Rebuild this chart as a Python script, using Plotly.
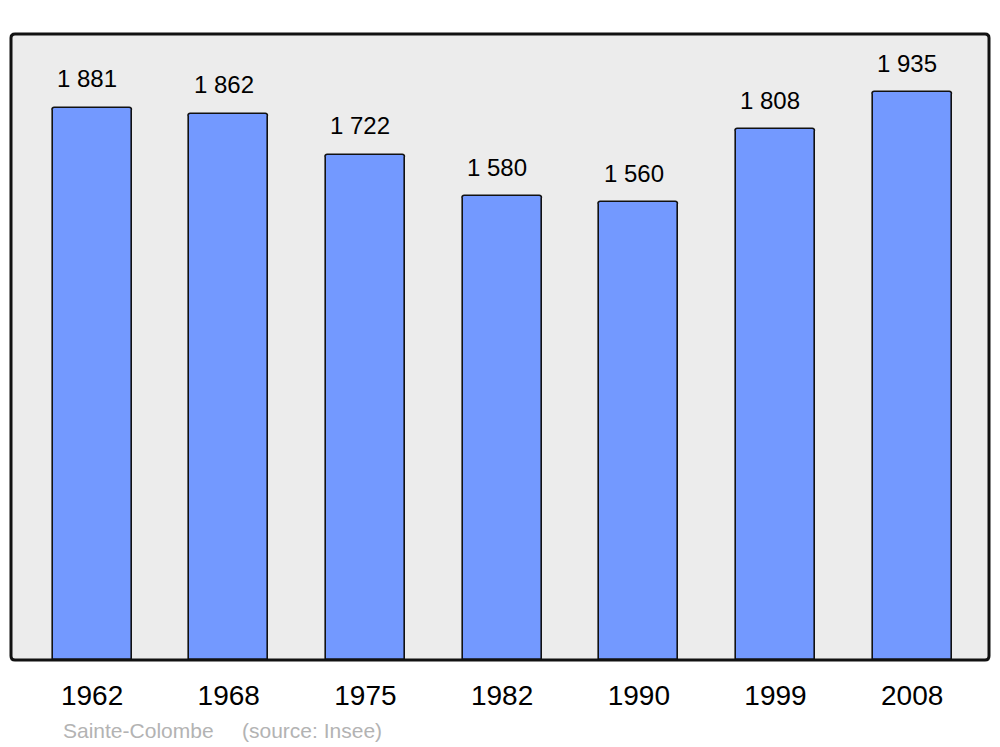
import plotly.graph_objects as go

years = ["1962", "1968", "1975", "1982", "1990", "1999", "2008"]
population = [1881, 1862, 1722, 1580, 1560, 1808, 1935]
value_labels = ["1 881", "1 862", "1 722", "1 580", "1 560", "1 808", "1 935"]
footer_place = "Sainte-Colombe"
footer_source = "(source: Insee)"

fig = go.Figure()
fig.add_trace(go.Bar(
    x=list(range(len(years))), y=population,
    width=0.578,
    marker=dict(color="#7399ff", line=dict(color="#111111", width=1.6), cornerradius=3),
    hoverinfo="skip",
))

for i, (v, t) in enumerate(zip(population, value_labels)):
    fig.add_annotation(x=i, y=v, text=t, showarrow=False, xanchor="center", yanchor="middle",
                       xshift=-5, yshift=29,
                       font=dict(family="Liberation Sans, Arial", size=24, color="#000000"))

footer_font = dict(family="Liberation Sans, Arial", size=21, color="#b3b3b3")
fig.add_annotation(xref="paper", yref="paper", x=0.051, y=-0.113, text=footer_place,
                   showarrow=False, xanchor="left", yanchor="middle", font=footer_font)
fig.add_annotation(xref="paper", yref="paper", x=0.234, y=-0.113, text=footer_source,
                   showarrow=False, xanchor="left", yanchor="middle", font=footer_font)

# rounded frame around plot area (paper coordinates)
rx, ry = 4 / 978, 4 / 626
path = (f"M {rx},0 L {1-rx},0 Q 1,0 1,{ry} L 1,{1-ry} Q 1,1 {1-rx},1 "
        f"L {rx},1 Q 0,1 0,{1-ry} L 0,{ry} Q 0,0 {rx},0 Z")
fig.add_shape(type="path", xref="paper", yref="paper", path=path,
              line=dict(color="#111111", width=3), fillcolor="rgba(0,0,0,0)", layer="above")

fig.update_layout(
    width=1000, height=747,
    margin=dict(l=11, r=11, t=34, b=87),
    paper_bgcolor="#ffffff", plot_bgcolor="#ececec",
    showlegend=False,
    bargap=0,
    xaxis=dict(range=[-0.593, 6.562], tickmode="array", tickvals=list(range(len(years))),
               ticktext=years, showgrid=False, zeroline=False, showline=False, ticks="",
               tickfont=dict(family="Liberation Sans, Arial", size=28, color="#000000"),
               ticklabelstandoff=16),
    yaxis=dict(range=[0, 2133], showgrid=False, zeroline=False, showticklabels=False, ticks="",
               showline=False),
)

fig.write_html("out.html", config={"displayModeBar": False})
with open("out.html", "r", encoding="utf-8") as f:
    html = f.read()
html = html.replace("<head>", "<head><style>html,body{margin:0;padding:0;overflow:hidden;}</style>", 1)
with open("out.html", "w", encoding="utf-8") as f:
    f.write(html)
